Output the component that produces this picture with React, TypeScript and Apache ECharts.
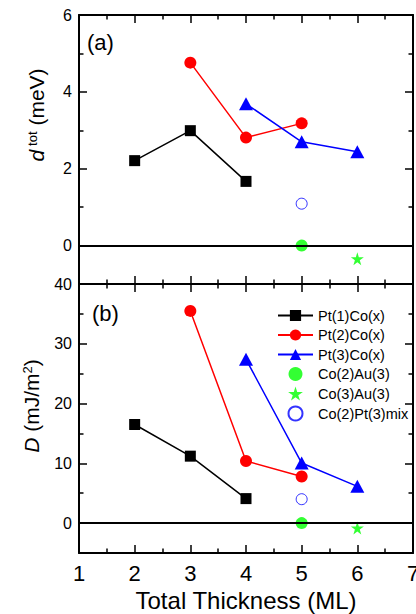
import React, { useEffect, useRef } from "react";
import * as echarts from "echarts";

// ---- data ----
const pt1X = [2, 3, 4];
const pt1Dtot = [2.21, 2.99, 1.67];
const pt1D = [16.5, 11.2, 4.1];

const pt2X = [3, 4, 5];
const pt2Dtot = [4.76, 2.81, 3.18];
const pt2D = [35.5, 10.4, 7.8];

const pt3X = [4, 5, 6];
const pt3Dtot = [3.69, 2.7, 2.44];
const pt3D = [27.4, 10.05, 6.15];

const co2au3X = [5];
const co2au3Dtot = [0];
const co2au3D = [0];

const co3au3X = [6];
const co3au3Dtot = [-0.34];
const co3au3D = [-0.8];

const mixX = [5];
const mixDtot = [1.09];
const mixD = [4.0];

const seriesNames = [
  "Pt(1)Co(x)",
  "Pt(2)Co(x)",
  "Pt(3)Co(x)",
  "Co(2)Au(3)",
  "Co(3)Au(3)",
  "Co(2)Pt(3)mix",
];

const topMajorTicks = [0, 2, 4, 6];
const topMinorTicks = [-1, 1, 3, 5];
const botMajorTicks = [0, 10, 20, 30, 40];
const botMinorTicks = [-5, 5, 15, 25, 35];

const FONT = '"Liberation Sans", Arial, Helvetica, sans-serif';
const STAR =
  "path://M50,0 L61,35 L98,35 L68,57 L79,91 L50,70 L21,91 L32,57 L2,35 L39,35 Z";

const pairs = (xs: number[], ys: number[]) => xs.map((x, i) => [x, ys[i]]);

const axisLineStyle = { color: "#000", width: 2 };
const tickLineStyle = { color: "#000", width: 1.5 };

function xAxis(gridIndex: number, position: string, showLabel: boolean) {
  return {
    type: "value",
    gridIndex,
    position,
    min: 1,
    max: 7,
    interval: 1,
    axisLine: { show: true, onZero: false, lineStyle: axisLineStyle },
    axisTick: { show: true, inside: true, length: 8, lineStyle: tickLineStyle },
    minorTick: { show: true, splitNumber: 2, length: 4.5, lineStyle: tickLineStyle },
    splitLine: { show: false },
    minorSplitLine: { show: false },
    axisLabel: {
      show: showLabel,
      fontSize: 22,
      color: "#000",
      margin: 9,
      fontFamily: FONT,
    },
  };
}

function yAxis(
  gridIndex: number,
  position: string,
  min: number,
  max: number,
  ticks: number[],
  major: boolean,
  showLabel: boolean
) {
  return {
    type: "value",
    gridIndex,
    position,
    min,
    max,
    axisLine: { show: major, onZero: false, lineStyle: axisLineStyle },
    axisTick: {
      show: true,
      inside: true,
      length: major ? 8 : 4.5,
      customValues: ticks,
      lineStyle: tickLineStyle,
    },
    splitLine: { show: false },
    axisLabel: {
      show: showLabel,
      customValues: ticks,
      fontSize: 16,
      color: "#000",
      margin: 7,
      fontFamily: FONT,
    },
  };
}

const zeroLine = {
  silent: true,
  symbol: ["none", "none"],
  label: { show: false },
  lineStyle: { color: "#000", width: 2, type: "solid" },
  data: [{ yAxis: 0 }],
};

function panelSeries(
  xi: number,
  yi: number,
  v1: number[],
  v2: number[],
  v3: number[],
  va: number[],
  vb: number[],
  vm: number[]
) {
  const common = {
    xAxisIndex: xi,
    yAxisIndex: yi,
    emphasis: { disabled: true },
    z: 3,
  };
  return [
    {
      ...common,
      name: seriesNames[0],
      type: "line",
      data: pairs(pt1X, v1),
      symbol: "rect",
      symbolSize: 11,
      itemStyle: { color: "#000" },
      lineStyle: { color: "#000", width: 1.5 },
      markLine: zeroLine,
    },
    {
      ...common,
      name: seriesNames[1],
      type: "line",
      data: pairs(pt2X, v2),
      symbol: "circle",
      symbolSize: 12,
      itemStyle: { color: "#ff0000" },
      lineStyle: { color: "#ff0000", width: 1.5 },
    },
    {
      ...common,
      name: seriesNames[2],
      type: "line",
      data: pairs(pt3X, v3),
      symbol: "triangle",
      symbolSize: [14, 13],
      itemStyle: { color: "#0000ff" },
      lineStyle: { color: "#0000ff", width: 1.5 },
    },
    {
      ...common,
      name: seriesNames[3],
      type: "scatter",
      data: pairs(co2au3X, va),
      symbol: "circle",
      symbolSize: 12,
      itemStyle: { color: "#00ff00" },
      z: 4,
    },
    {
      ...common,
      name: seriesNames[4],
      type: "scatter",
      data: pairs(co3au3X, vb),
      symbol: STAR,
      symbolSize: 13,
      itemStyle: { color: "#00ff00" },
    },
    {
      ...common,
      name: seriesNames[5],
      type: "scatter",
      data: pairs(mixX, vm),
      symbol: "circle",
      symbolSize: 11,
      itemStyle: { color: "#ffffff", borderColor: "#0000ff", borderWidth: 1 },
    },
  ];
}

export default function App() {
  const ref = useRef<HTMLDivElement>(null);

  useEffect(() => {
    if (!ref.current) return;
    const chart = echarts.init(ref.current, undefined, { renderer: "svg" });
    const option: any = {
      animation: false,
      backgroundColor: "#ffffff",
      textStyle: { fontFamily: FONT },
      grid: [
        { left: 79, top: 15, width: 334, height: 269, outerBoundsMode: "none", containLabel: false },
        { left: 79, top: 284, width: 334, height: 269, outerBoundsMode: "none", containLabel: false },
      ],
      xAxis: [
        xAxis(0, "bottom", false),
        xAxis(0, "top", false),
        xAxis(1, "bottom", true),
        xAxis(1, "top", false),
      ],
      yAxis: [
        yAxis(0, "left", -1, 6, topMajorTicks, true, true),
        yAxis(0, "left", -1, 6, topMinorTicks, false, false),
        yAxis(0, "right", -1, 6, topMajorTicks, true, false),
        yAxis(0, "right", -1, 6, topMinorTicks, false, false),
        yAxis(1, "left", -5, 40, botMajorTicks, true, true),
        yAxis(1, "left", -5, 40, botMinorTicks, false, false),
        yAxis(1, "right", -5, 40, botMajorTicks, true, false),
        yAxis(1, "right", -5, 40, botMinorTicks, false, false),
      ],
      legend: {
        data: seriesNames,
        orient: "vertical",
        left: 272,
        top: 303,
        itemWidth: 35,
        itemHeight: 14,
        itemGap: 4.5,
        selectedMode: false,
        textStyle: { fontSize: 14.5, color: "#000", fontFamily: FONT, lineHeight: 14 },
      },
      series: [
        ...panelSeries(0, 0, pt1Dtot, pt2Dtot, pt3Dtot, co2au3Dtot, co3au3Dtot, mixDtot),
        ...panelSeries(2, 4, pt1D, pt2D, pt3D, co2au3D, co3au3D, mixD),
      ],
      graphic: [
        {
          type: "text",
          x: 87,
          y: 42,
          style: { text: "(a)", fontSize: 22, fill: "#000", fontFamily: FONT, verticalAlign: "middle" },
        },
        {
          type: "text",
          x: 92,
          y: 313,
          style: { text: "(b)", fontSize: 22, fill: "#000", fontFamily: FONT, verticalAlign: "middle" },
        },
        {
          type: "text",
          x: 36,
          y: 115,
          rotation: Math.PI / 2,
          style: {
            text: "{i|d}{s|tot}{n| (meV)}",
            align: "center",
            verticalAlign: "middle",
            fill: "#000",
            rich: {
              i: { fontSize: 21, fontStyle: "italic", fontFamily: FONT, fill: "#000" },
              s: { fontSize: 13, fontFamily: FONT, verticalAlign: "top", padding: [0, 0, 0, 4], fill: "#000" },
              n: { fontSize: 21, fontFamily: FONT, fill: "#000" },
            },
          },
        },
        {
          type: "text",
          x: 31,
          y: 406,
          rotation: Math.PI / 2,
          style: {
            text: "{i|D}{n| (mJ/m}{s|2}{n|)}",
            align: "center",
            verticalAlign: "middle",
            fill: "#000",
            rich: {
              i: { fontSize: 21, fontStyle: "italic", fontFamily: FONT, fill: "#000" },
              s: { fontSize: 13, fontFamily: FONT, verticalAlign: "top", fill: "#000" },
              n: { fontSize: 21, fontFamily: FONT, fill: "#000" },
            },
          },
        },
        {
          type: "text",
          x: 246,
          y: 600,
          style: {
            text: "Total Thickness (ML)",
            fontSize: 24,
            fill: "#000",
            fontFamily: FONT,
            align: "center",
            verticalAlign: "middle",
          },
        },
      ],
    };
    chart.setOption(option);
    return () => chart.dispose();
  }, []);

  return (
    <div
      ref={ref}
      style={{ position: "absolute", left: 0, top: 0, width: 416, height: 614 }}
    />
  );
}
